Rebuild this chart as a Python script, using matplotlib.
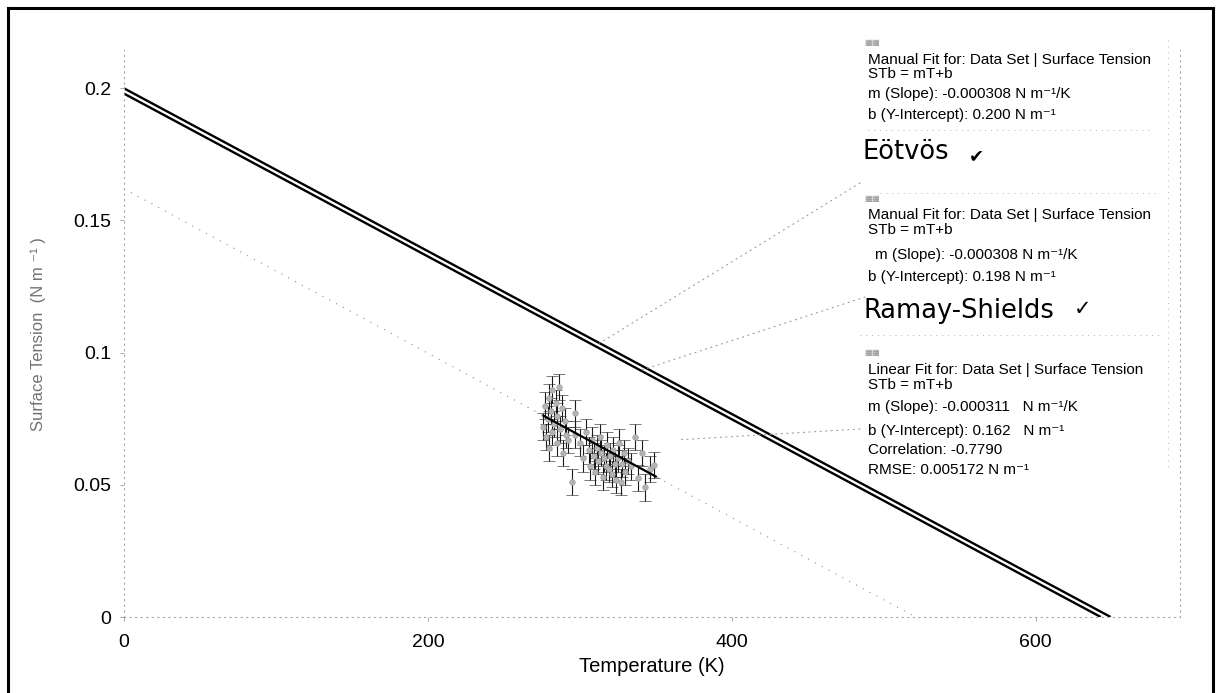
"""Surface tension vs temperature with two manual fits and a linear fit."""

import matplotlib
matplotlib.use("Agg")
import matplotlib.pyplot as plt
from matplotlib.lines import Line2D

plt.rcParams["font.family"] = ["Liberation Sans", "DejaVu Sans"]

W, H = 1217, 693

# measured data (T in K, surface tension in N/m), error +/- 0.005
temp = [276, 277, 278, 279, 280, 280, 281, 282, 282, 283, 284, 285, 285, 286,
        287, 288, 289, 290, 291, 292, 295, 297, 297, 300, 302, 304, 306, 307,
        308, 309, 310, 311, 312, 313, 314, 315, 316, 317, 318, 319, 320, 321,
        322, 323, 324, 325, 326, 327, 328, 329, 330, 332, 334, 336, 338, 341,
        343, 346, 349]
tension = [0.072, 0.080, 0.068, 0.075, 0.083, 0.064, 0.078, 0.070, 0.086,
           0.073, 0.081, 0.066, 0.076, 0.087, 0.071, 0.079, 0.062, 0.074,
           0.069, 0.067, 0.051, 0.077, 0.069, 0.066, 0.060, 0.070, 0.063,
           0.057, 0.067, 0.061, 0.055, 0.064, 0.059, 0.068, 0.062, 0.053,
           0.060, 0.057, 0.065, 0.056, 0.061, 0.054, 0.063, 0.058, 0.052,
           0.060, 0.066, 0.051, 0.058, 0.062, 0.055, 0.059, 0.057, 0.068,
           0.0525, 0.062, 0.049, 0.056, 0.0575]
tension_err = 0.005

# fits: (slope, intercept)
eotvos = (-0.000308, 0.200)
ramay = (-0.000308, 0.198)
linfit = (-0.000311, 0.162)
fit_range = (276, 350)

xticks = [0, 200, 400, 600]
yticks = [0, 0.05, 0.1, 0.15, 0.2]
yticklabels = ["0", "0.05", "0.1", "0.15", "0.2"]


def fp(x, y):
    """figure pixel (from top-left) -> figure fraction"""
    return x / W, 1 - y / H


fig = plt.figure(figsize=(W / 100, H / 100), dpi=100)
ax = fig.add_axes([124 / W, 1 - 617 / H, (1180 - 124) / W, (617 - 50) / H])
ax.set_xlim(0, 695)
ax.set_ylim(0, 0.2145)

# double line: Eotvos + Ramay-Shields
for m, b in (eotvos, ramay):
    ax.axline((0, b), slope=m, color="black", lw=1.7, solid_capstyle="butt")

# linear fit, extended dotted + solid over data range
ax.axline((0, linfit[1]), slope=linfit[0], color="0.55", lw=0.8,
          linestyle=(0, (1, 6)))
fx = list(fit_range)
ax.plot(fx, [linfit[0] * t + linfit[1] for t in fx], color="black", lw=1.6,
        zorder=4)

ax.errorbar(temp, tension, yerr=tension_err, fmt="o", ms=4,
            mfc="0.7", mec="0.6", mew=0.4, ecolor="0.1", elinewidth=0.8,
            capsize=4, capthick=0.8, zorder=3)

# axes styling
for side in ("left", "bottom", "right"):
    ax.spines[side].set_linestyle((0, (1, 4)))
    ax.spines[side].set_color("0.65")
    ax.spines[side].set_linewidth(0.8)
ax.spines["top"].set_visible(False)
ax.set_xticks(xticks)
ax.set_yticks(yticks)
ax.set_yticklabels(yticklabels)
ax.tick_params(length=3, width=0.6, color="0.6", labelsize=14, pad=6)
ax.tick_params(axis="x", pad=9)

fig.text(*fp(652, 666), "Temperature (K)", ha="center", va="center",
         fontsize=14.5)
fig.text(*fp(38, 334), "Surface Tension  (N m \u207b\u00b9 )", ha="center",
         va="center", rotation=90, fontsize=12, color="0.45")

# leader lines from curves to their boxes
leaders = [((313, eotvos[0] * 313 + eotvos[1]), (860, 183)),
           ((340, ramay[0] * 340 + ramay[1]), (865, 297)),
           ((364, 0.067), (860, 429))]
for xy, xyt in leaders:
    ax.annotate("", xy=xy, xycoords="data", xytext=(xyt[0], H - xyt[1]),
                textcoords="figure pixels",
                arrowprops=dict(arrowstyle="-", linestyle=(0, (1, 4)),
                                color="0.6", lw=0.8, shrinkA=0, shrinkB=0))

# annotation boxes
small = 11
box_lines = [
    (868, 60, "Manual Fit for: Data Set | Surface Tension"),
    (868, 74, "STb = mT+b"),
    (868, 94, "m (Slope): -0.000308 N m\u207b\u00b9/K"),
    (868, 115, "b (Y-Intercept): 0.200 N m\u207b\u00b9"),
    (868, 215, "Manual Fit for: Data Set | Surface Tension"),
    (868, 230, "STb = mT+b"),
    (875, 255, "m (Slope): -0.000308 N m\u207b\u00b9/K"),
    (868, 277, "b (Y-Intercept): 0.198 N m\u207b\u00b9"),
    (868, 370, "Linear Fit for: Data Set | Surface Tension"),
    (868, 385, "STb = mT+b"),
    (868, 407, "m (Slope): -0.000311   N m\u207b\u00b9/K"),
    (868, 431, "b (Y-Intercept): 0.162   N m\u207b\u00b9"),
    (868, 450, "Correlation: -0.7790"),
    (868, 470, "RMSE: 0.005172 N m\u207b\u00b9"),
]
for x, y, s in box_lines:
    fig.text(*fp(x, y), s, ha="left", va="center", fontsize=small)

for y in (43, 198, 352):
    fig.text(*fp(864, y), "\u25a6\u25a6", ha="left", va="center",
             fontsize=6, color="0.55", family="DejaVu Sans")

fig.text(*fp(862, 152), "E\u00f6tv\u00f6s", ha="left", va="center",
         fontsize=18.5, family="DejaVu Sans")
fig.text(*fp(976, 156), "\u2714", ha="center", va="center", fontsize=13,
         family="DejaVu Sans", style="italic")
fig.text(*fp(864, 311), "Ramay-Shields", ha="left", va="center",
         fontsize=18.5, family="DejaVu Sans")
fig.text(*fp(1083, 309), "\u2713", ha="center", va="center", fontsize=15,
         family="DejaVu Sans")

# faint dotted box edges
dot = dict(color="0.7", lw=0.7, linestyle=(0, (1, 5)))
for (x0, y0), (x1, y1) in [((868, 130), (1150, 130)),
                           ((880, 193), (1160, 193)),
                           ((860, 335), (1160, 335)),
                           ((1168, 40), (1168, 470))]:
    fig.add_artist(Line2D([x0 / W, x1 / W], [1 - y0 / H, 1 - y1 / H],
                          transform=fig.transFigure, **dot))

# scanned page border
for (x0, y0), (x1, y1) in [((8, 8), (8, 693)), ((8, 8), (1213, 8)),
                           ((1213, 8), (1213, 693))]:
    fig.add_artist(Line2D([x0 / W, x1 / W], [1 - y0 / H, 1 - y1 / H],
                          transform=fig.transFigure, color="black", lw=2.2))

fig.savefig("out.png", dpi=100)
